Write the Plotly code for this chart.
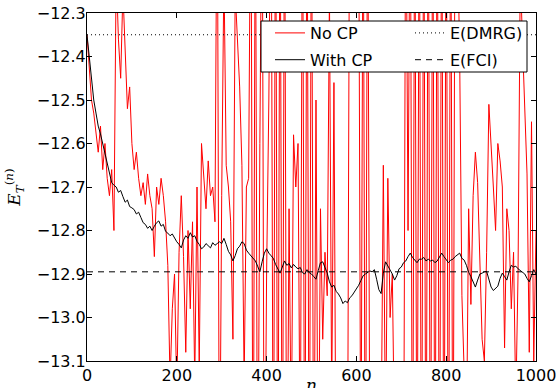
import plotly.graph_objects as go

# iteration index n (sampled every 5 steps)
n_values = list(range(0, 1001, 5))

# E_T^(n) without control parameter (red)
no_cp = [
    -12.35, -12.42, -12.50, -12.53, -12.58, -12.62, -12.56, -12.66, -12.60, -12.68,
    -12.72, -12.66, -12.80, -12.20, -12.36, -12.45, -12.25, -12.40, -12.52, -12.47,
    -12.60, -12.66, -12.62, -12.68, -12.72, -12.69, -12.74, -12.67, -12.72, -12.75,
    -12.86, -12.70, -12.74, -12.68, -12.72, -12.78, -12.88, -13.15, -12.98, -12.90,
    -13.18, -12.85, -12.72, -12.86, -13.08, -12.80, -12.98, -12.78, -13.15, -12.70,
    -13.12, -12.60, -12.68, -12.75, -12.64, -12.72, -12.70, -12.78, -11.90, -13.50,
    -12.72, -12.20, -12.65, -12.70, -12.78, -13.05, -12.25, -12.38, -12.47, -12.65,
    -13.15, -12.70, -12.68, -11.90, -13.60, -11.90, -13.60, -12.60, -11.90, -13.60,
    -12.90, -12.50, -11.90, -13.60, -11.90, -13.60, -11.90, -13.60, -11.90, -13.60,
    -12.75, -13.30, -12.58, -12.70, -12.60, -13.40, -11.90, -13.60, -11.90, -13.60,
    -11.90, -13.60, -12.50, -13.50, -12.75, -13.05, -12.85, -12.95, -12.25, -13.20,
    -12.46, -13.50, -13.70, -13.60, -13.80, -13.60, -13.50, -11.90, -11.80, -11.90,
    -11.80, -12.00, -13.50, -11.90, -13.60, -11.90, -13.40, -13.60, -13.50, -13.70,
    -13.40, -13.30, -12.65, -13.30, -12.68, -13.00, -12.90, -13.30, -13.50, -13.60,
    -13.40, -13.50, -11.90, -12.80, -11.90, -13.60, -11.90, -13.60, -11.90, -13.60,
    -11.90, -13.60, -11.90, -13.60, -11.90, -13.60, -11.90, -13.60, -11.90, -13.60,
    -11.90, -13.60, -11.90, -13.60, -11.90, -12.10, -12.40, -12.95, -13.07, -13.30,
    -12.75, -12.97, -12.72, -12.62, -12.69, -12.90, -13.05, -13.10, -12.85, -12.51,
    -12.62, -12.70, -12.80, -12.60, -12.64, -12.70, -13.07, -12.75, -12.80, -12.98,
    -12.85, -13.20, -12.90, -12.20, -12.37, -12.54, -12.67, -13.08, -12.55, -13.10,
    -12.80,
]

# E_T^(n) with control parameter (black)
with_cp = [
    -12.350, -12.400, -12.448, -12.500, -12.530, -12.560, -12.578, -12.602, -12.625, -12.648,
    -12.668, -12.690, -12.696, -12.700, -12.712, -12.708, -12.722, -12.735, -12.730, -12.745,
    -12.748, -12.752, -12.762, -12.758, -12.770, -12.782, -12.786, -12.795, -12.790, -12.800,
    -12.790, -12.782, -12.778, -12.790, -12.786, -12.802, -12.806, -12.812, -12.808, -12.818,
    -12.826, -12.832, -12.840, -12.822, -12.812, -12.818, -12.805, -12.815, -12.812, -12.825,
    -12.832, -12.842, -12.838, -12.830, -12.836, -12.840, -12.828, -12.834, -12.830, -12.826,
    -12.830, -12.818, -12.832, -12.848, -12.856, -12.870, -12.858, -12.842, -12.836, -12.826,
    -12.830, -12.845, -12.852, -12.858, -12.864, -12.870, -12.882, -12.895, -12.872, -12.852,
    -12.842, -12.852, -12.858, -12.864, -12.878, -12.890, -12.898, -12.884, -12.870, -12.880,
    -12.876, -12.886, -12.878, -12.884, -12.888, -12.885, -12.897, -12.900, -12.890, -12.897,
    -12.900, -12.906, -12.912, -12.892, -12.874, -12.872, -12.886, -12.898, -12.918, -12.930,
    -12.926, -12.940, -12.946, -12.955, -12.968, -12.962, -12.966, -12.955, -12.950, -12.942,
    -12.935, -12.926, -12.915, -12.904, -12.900, -12.896, -12.893, -12.895, -12.890, -12.912,
    -12.936, -12.945, -12.898, -12.872, -12.882, -12.892, -12.900, -12.914, -12.904, -12.888,
    -12.884, -12.874, -12.870, -12.860, -12.852, -12.862, -12.868, -12.874, -12.866, -12.866,
    -12.862, -12.870, -12.866, -12.870, -12.868, -12.874, -12.870, -12.860, -12.852, -12.860,
    -12.866, -12.874, -12.868, -12.866, -12.860, -12.856, -12.852, -12.864, -12.868, -12.880,
    -12.896, -12.906, -12.920, -12.930, -12.914, -12.900, -12.898, -12.895, -12.894, -12.912,
    -12.930, -12.938, -12.932, -12.928, -12.910, -12.898, -12.906, -12.914, -12.895, -12.880,
    -12.884, -12.882, -12.888, -12.892, -12.896, -12.900, -12.910, -12.918, -12.904, -12.890,
    -12.900,
]

# reference energies
e_dmrg = -12.35
e_fci = -12.895
n_span = [0, 1000]

x_ticks = [0, 200, 400, 600, 800, 1000]
y_ticks = [-13.1, -13.0, -12.9, -12.8, -12.7, -12.6, -12.5, -12.4, -12.3]

assert len(no_cp) == len(n_values) == len(with_cp)

fig = go.Figure()
fig.add_trace(go.Scatter(x=n_values, y=no_cp, mode="lines", name="No CP",
                         line=dict(color="#ff0000", width=1), legend="legend",
                         legendgroup="a"))
fig.add_trace(go.Scatter(x=n_values, y=with_cp, mode="lines", name="With CP",
                         line=dict(color="black", width=1), legend="legend",
                         legendgroup="b"))
fig.add_trace(go.Scatter(x=n_span, y=[e_dmrg, e_dmrg], mode="lines", name="E(DMRG)",
                         line=dict(color="black", width=1, dash="1px,3px"),
                         legend="legend2", legendgroup="c"))
fig.add_trace(go.Scatter(x=n_span, y=[e_fci, e_fci], mode="lines", name="E(FCI)",
                         line=dict(color="black", width=1, dash="6px,5px"),
                         legend="legend2", legendgroup="d"))

W, H = 558, 388
L, R, T, B = 87, 22, 13, 27
pw, ph = W - L - R, H - T - B

def px(xp):
    return (xp - L) / pw

def py(yp):
    return (H - B - yp) / ph

axis_common = dict(ticks="inside", ticklen=5, tickwidth=1, tickcolor="black",
                   showline=True, linecolor="black", linewidth=1, mirror="allticks",
                   showgrid=False, zeroline=False, ticklabeloverflow="allow",
                   tickfont=dict(family="DejaVu Sans", size=16, color="black"))

fig.update_layout(
    width=W, height=H,
    margin=dict(l=L, r=R, t=T, b=B, autoexpand=False),
    paper_bgcolor="white", plot_bgcolor="white",
    font=dict(family="DejaVu Sans", size=16, color="black"),
    xaxis=dict(range=[0, 1000], tickvals=x_ticks, **axis_common),
    yaxis=dict(range=[-13.1, -12.3], tickvals=y_ticks, tickformat=".1f",
               ticklabelstandoff=-3,
               title=dict(text="<i>E</i><sub><i>T</i></sub><sup>(<i>n</i>)</sup>",
                          font=dict(family="DejaVu Serif", size=17), standoff=11),
               **axis_common),
    annotations=[dict(text="<i>n</i>", xref="paper", yref="paper", x=0.5, y=py(385),
                      xanchor="center", yanchor="middle", showarrow=False,
                      font=dict(family="DejaVu Serif", size=17, color="black"))],
    legend=dict(x=px(270), xanchor="left", y=py(16), yanchor="top",
                bgcolor="rgba(0,0,0,0)", borderwidth=0,
                font=dict(family="DejaVu Sans", size=16),
                traceorder="grouped", tracegroupgap=3),
    legend2=dict(x=px(410), xanchor="left", y=py(16), yanchor="top",
                 bgcolor="rgba(0,0,0,0)", borderwidth=0,
                 font=dict(family="DejaVu Sans", size=16),
                 traceorder="grouped", tracegroupgap=3),
    shapes=[dict(type="rect", xref="paper", yref="paper",
                 x0=px(261), x1=px(527), y0=py(72), y1=py(21),
                 line=dict(color="black", width=1), fillcolor="white", layer="above")],
)

# remove the browser's default 8px body margin so the figure fills the window
fig.write_html("out.html", config={"displayModeBar": False},
               post_script="document.body.style.margin='0px';")
